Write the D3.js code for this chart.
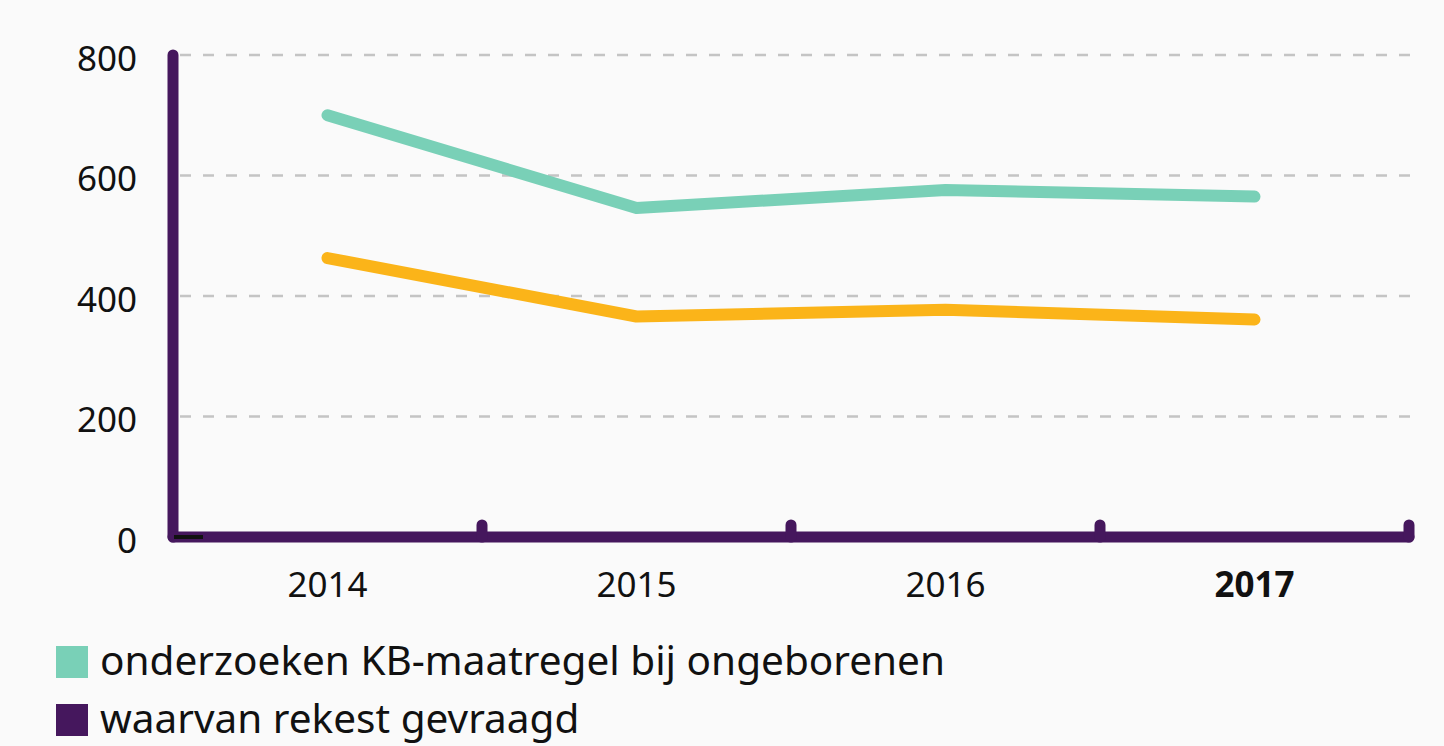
<!DOCTYPE html>
<html>
<head>
<meta charset="utf-8">
<script src="https://cdn.jsdelivr.net/npm/d3@7"></script>
<style>
  html, body { margin: 0; padding: 0; background: #fafafa; }
  svg { display: block; font-family: "Noto Sans", sans-serif; }
</style>
</head>
<body>
<div id="chart"></div>
<script>
// data
var years = ["2014", "2015", "2016", "2017"];
var onderzoeken = [700, 546, 576, 565];
var rekest = [463, 366, 377, 361];
var yTicks = [0, 200, 400, 600, 800];
var legendLabels = ["onderzoeken KB-maatregel bij ongeborenen", "waarvan rekest gevraagd"];

var width = 1444,
    height = 746,
    purple = "#45175d",
    teal = "#79d0b7",
    orange = "#fbb419";

var svg = d3.select("#chart")
    .append("svg")
    .attr("width", width)
    .attr("height", height);

var x = d3.scaleBand()
        .domain(years)
        .range([173, 1409]),
    y = d3.scaleLinear()
        .domain([0, 800])
        .range([537, 55]);

// dashed grid
svg.append("g")
    .selectAll("line")
    .data(yTicks.filter(function(d){ return d > 0; }))
    .join("line")
    .attr("x1", 180)
    .attr("x2", 1416)
    .attr("y1", function(d){ return y(d); })
    .attr("y2", function(d){ return y(d); })
    .attr("stroke", "#c4c4c4")
    .attr("stroke-width", 2.5)
    .attr("stroke-dasharray", "11,12");

// y labels
var yAxis = d3.axisLeft(y).tickValues(yTicks).tickSize(0).tickPadding(0);
svg.append("g")
    .attr("transform", "translate(137,4)")
    .call(yAxis)
    .call(function(g){ g.select(".domain").remove(); })
    .selectAll("text")
    .style("font-size", "35px")
    .style("font-family", "'Noto Sans', sans-serif")
    .attr("fill", "#111");

// x labels at band centers
var xAxis = d3.axisBottom(x).tickSize(0).tickPadding(0);
svg.append("g")
    .attr("transform", "translate(0,597)")
    .call(xAxis)
    .call(function(g){ g.select(".domain").remove(); })
    .selectAll("text")
    .attr("dy", 0)
    .style("font-size", "35px")
    .style("font-family", "'Noto Sans', sans-serif")
    .style("font-weight", function(d){ return d === "2017" ? "bold" : "normal"; })
    .attr("fill", "#111");

// lines
var line = d3.line()
    .x(function(d, i){ return x(years[i]) + x.bandwidth() / 2; })
    .y(function(d){ return y(d); });

[[onderzoeken, teal], [rekest, orange]].forEach(function(s){
    svg.append("path")
        .datum(s[0])
        .attr("d", line)
        .attr("fill", "none")
        .attr("stroke", s[1])
        .attr("stroke-width", 12)
        .attr("stroke-linecap", "round")
        .attr("stroke-linejoin", "round");
});

// axes in purple
svg.append("line")
    .attr("x1", 173).attr("x2", 173)
    .attr("y1", y(800)).attr("y2", y(0))
    .attr("stroke", purple)
    .attr("stroke-width", 11)
    .attr("stroke-linecap", "round");

svg.append("line")
    .attr("x1", 173).attr("x2", x.range()[1])
    .attr("y1", y(0)).attr("y2", y(0))
    .attr("stroke", purple)
    .attr("stroke-width", 11)
    .attr("stroke-linecap", "round");

svg.append("g")
    .selectAll("line")
    .data(years)
    .join("line")
    .attr("x1", function(d){ return x(d) + x.bandwidth(); })
    .attr("x2", function(d){ return x(d) + x.bandwidth(); })
    .attr("y1", y(0) - 12)
    .attr("y2", y(0))
    .attr("stroke", purple)
    .attr("stroke-width", 11)
    .attr("stroke-linecap", "round");

// little black zero tick
svg.append("line")
    .attr("x1", 174).attr("x2", 203)
    .attr("y1", y(0)).attr("y2", y(0))
    .attr("stroke", "#111")
    .attr("stroke-width", 4);

// legend
var legend = svg.append("g")
    .selectAll("g")
    .data(legendLabels)
    .join("g")
    .attr("transform", function(d, i){ return "translate(56," + (646 + i * 58) + ")"; });

legend.append("rect")
    .attr("width", 32)
    .attr("height", 32)
    .attr("fill", function(d, i){ return i === 0 ? teal : purple; });

legend.append("text")
    .attr("x", 44)
    .attr("y", 29)
    .style("font-size", "40.5px")
    .attr("fill", "#111")
    .text(function(d){ return d; });
</script>
</body>
</html>
